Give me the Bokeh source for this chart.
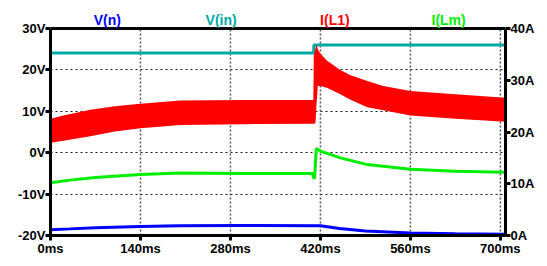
from bokeh.plotting import figure
from bokeh.models import Range1d, LinearAxis, FixedTicker
from bokeh.core.properties import value
from bokeh.embed import file_html
from bokeh.resources import INLINE

# ---- data ----
x_ticks = [0, 140, 280, 420, 560, 700]
x_tick_labels = ["0ms", "140ms", "280ms", "420ms", "560ms", "700ms"]
v_ticks = [-20, -10, 0, 10, 20, 30]
v_tick_labels = ["-20V", "-10V", "0V", "10V", "20V", "30V"]
a_ticks = [0, 10, 20, 30, 40]
a_tick_labels = ["0A", "10A", "20A", "30A", "40A"]
t_end = 708

# V(in)  [V]
vin_t = [0, 409.7, 409.7, 708]
vin_v = [24.1, 24.1, 26.0, 26.0]

# V(n)  [V]
vn_t = [0, 30, 70, 140, 200, 300, 420, 450, 490, 560, 630, 708]
vn_v = [-18.6, -18.4, -18.1, -17.8, -17.65, -17.6, -17.65, -18.3, -18.9, -19.4, -19.6, -19.7]

# I(L1) ripple envelope  [A]
il1_t = [0, 20, 62, 100, 140, 202, 300, 409.0, 409.7, 412.3, 413.8, 415.9, 420, 430, 451, 466, 493, 518, 560, 630, 708]
il1_hi = [22.56, 23.2, 24.32, 24.96, 25.44, 26.08, 26.16, 26.16, 34.8, 36.2, 36.96, 36.0, 35.12, 33.84, 32.0, 31.0, 29.84, 28.9, 27.92, 27.28, 26.64]
il1_lo = [17.92, 18.3, 19.2, 20.08, 20.72, 21.36, 21.52, 21.6, 21.6, 21.7, 25.0, 28.88, 28.88, 28.56, 27.28, 26.3, 24.8, 24.2, 23.2, 22.56, 22.0]

# I(Lm)  [A]
ilm_t = [0, 30, 70, 140, 202, 300, 408, 409.5, 411, 413.5, 420, 451, 493, 560, 630, 708]
ilm_a = [10.2, 10.7, 11.2, 11.8, 12.1, 12.0, 12.0, 11.0, 11.2, 16.8, 16.3, 15.0, 13.7, 12.8, 12.4, 12.2]

series_names = ["V(n)", "V(in)", "I(L1)", "I(Lm)"]
series_colors = ["#0000FF", "#00A8A8", "#FF0000", "#00EE00"]

FONT = "Liberation Sans"

# layout (pixels): frame spans top label strip + plot area
W, H = 539, 258
FRAME_TOP, PLOT_TOP, PLOT_BOTTOM = 4, 28, 235
V_MIN, V_MAX = v_ticks[0], v_ticks[-1]
A_MAX = a_ticks[-1]
px_per_v = (PLOT_BOTTOM - PLOT_TOP) / (V_MAX - V_MIN)
y_top = V_MAX + (PLOT_TOP - FRAME_TOP) / px_per_v
a_top = (y_top - V_MIN) / (V_MAX - V_MIN) * A_MAX
label_y = V_MAX + 9 / px_per_v

p = figure(width=W, height=H, output_backend="svg", toolbar_location=None,
           x_range=Range1d(0, t_end), y_range=Range1d(V_MIN, y_top),
           min_border_left=50, min_border_right=W - 505,
           min_border_top=FRAME_TOP, min_border_bottom=H - PLOT_BOTTOM)
p.extra_y_ranges = {"amp": Range1d(0, a_top)}
p.background_fill_color = "white"
p.border_fill_color = "white"
p.outline_line_color = None

# grids
p.xgrid.visible = False
p.ygrid.ticker = FixedTicker(ticks=v_ticks[1:-1])
p.ygrid.grid_line_color = "#1a1a1a"
p.ygrid.grid_line_dash = "2 3"
p.ygrid.grid_line_width = 1.2
p.segment(x0=x_ticks[1:], y0=[V_MIN] * (len(x_ticks) - 1), x1=x_ticks[1:], y1=[V_MAX] * (len(x_ticks) - 1),
          line_color="#555555", line_dash="2 2", line_width=1.5)


def style_axis(ax):
    ax.axis_line_width = 3
    ax.axis_line_color = "black"
    ax.major_tick_line_width = 3
    ax.major_tick_line_color = "black"
    ax.major_tick_out = 5
    ax.major_tick_in = 0
    ax.minor_tick_line_color = None
    ax.major_label_text_font = FONT
    ax.major_label_text_font_style = "bold"
    ax.major_label_text_font_size = "13px"
    ax.major_label_text_color = "black"
    ax.major_label_standoff = 0


p.xaxis.ticker = FixedTicker(ticks=x_ticks)
p.xaxis.major_label_overrides = {t: l for t, l in zip(x_ticks, x_tick_labels)}
p.yaxis.ticker = FixedTicker(ticks=v_ticks)
p.yaxis.major_label_overrides = {t: l for t, l in zip(v_ticks, v_tick_labels)}
p.yaxis.bounds = (V_MIN, V_MAX)
style_axis(p.xaxis[0])
style_axis(p.yaxis[0])

ax_r = LinearAxis(y_range_name="amp", ticker=FixedTicker(ticks=a_ticks), bounds=(0, A_MAX))
ax_r.major_label_overrides = {t: l for t, l in zip(a_ticks, a_tick_labels)}
style_axis(ax_r)
p.add_layout(ax_r, "right")

# top frame line
p.segment(x0=[0], y0=[V_MAX], x1=[t_end], y1=[V_MAX], line_color="black", line_width=3)

# traces
p.line(vin_t, vin_v, line_color=series_colors[1], line_width=3)
p.varea(x=il1_t, y1=il1_lo, y2=il1_hi, fill_color=series_colors[2], y_range_name="amp")
p.line(ilm_t, ilm_a, line_color=series_colors[3], line_width=3, y_range_name="amp")
p.line(vn_t, vn_v, line_color=series_colors[0], line_width=3)

# series names above the plot
quarter = t_end / len(series_names)
p.text(x=[quarter * (i + 0.5) for i in range(len(series_names))], y=[label_y] * len(series_names),
       text=series_names, text_color=series_colors, text_font=value(FONT),
       text_font_style="bold", text_font_size="14px", text_align="center", text_baseline="middle")

open("out.html", "w").write(file_html(p, INLINE))
